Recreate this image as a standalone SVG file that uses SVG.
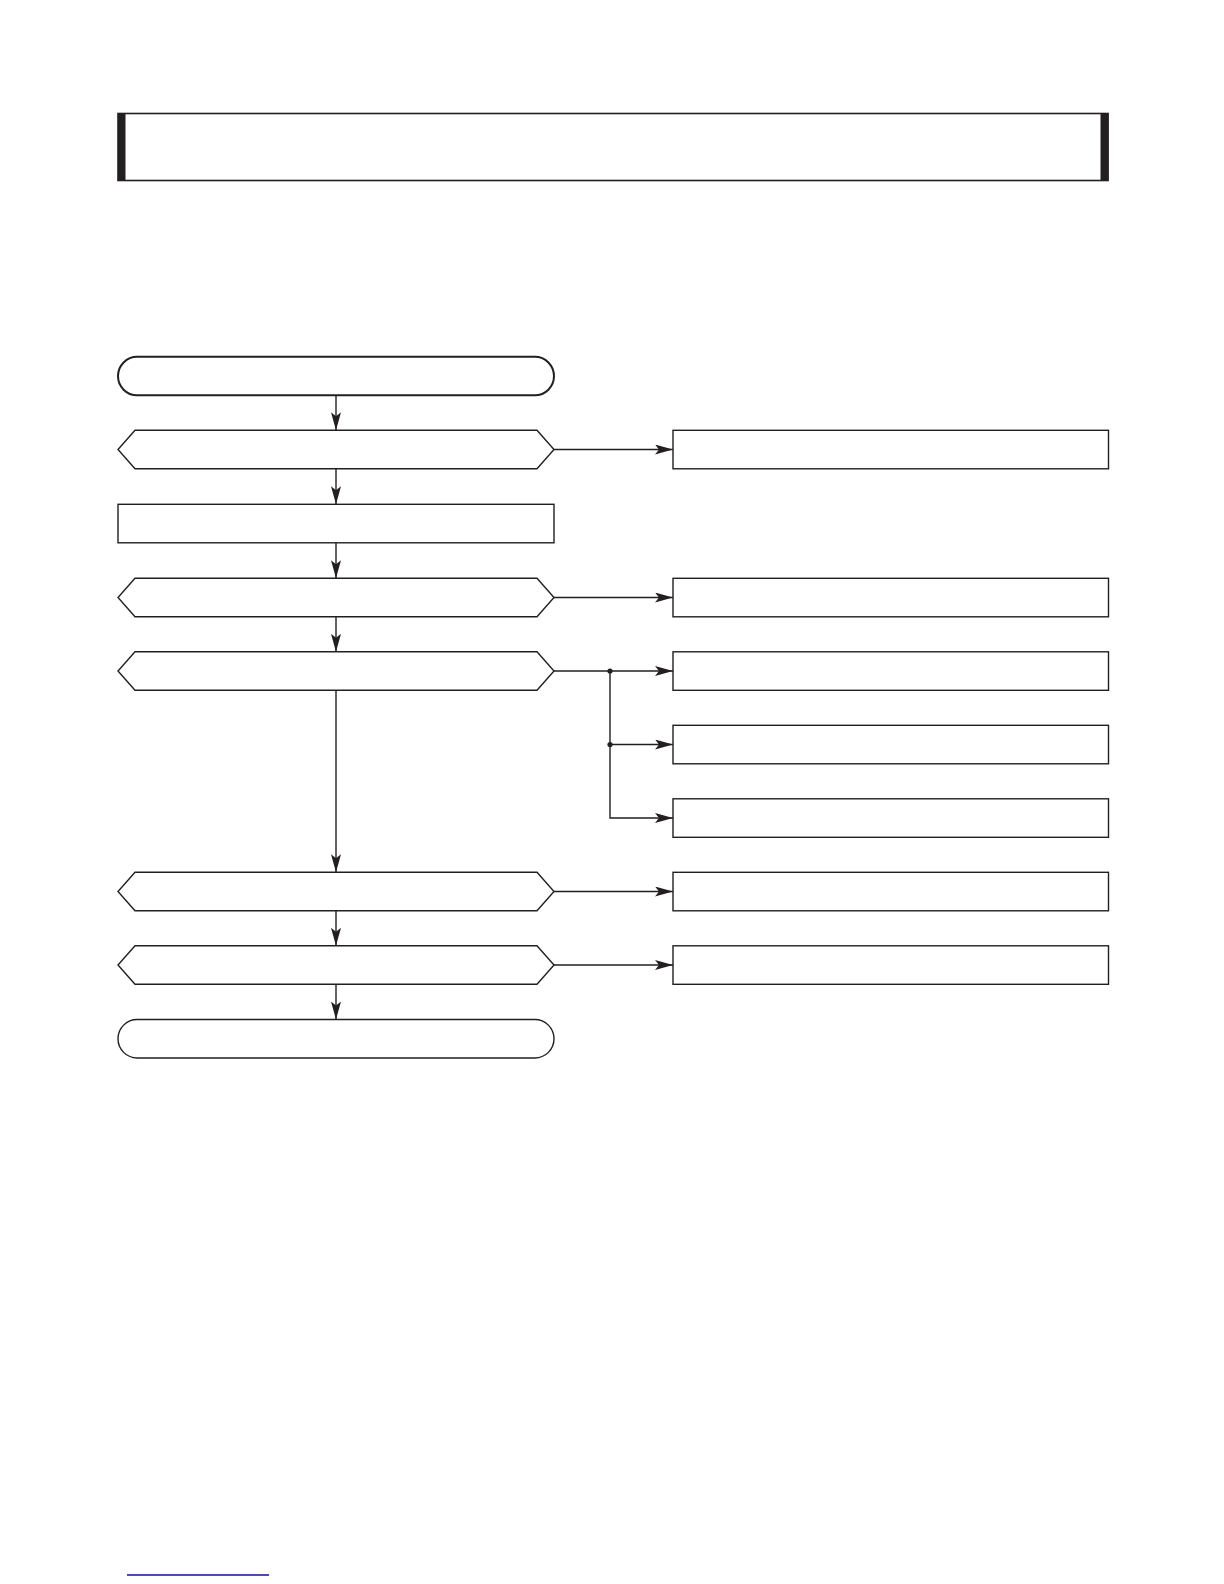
<svg xmlns="http://www.w3.org/2000/svg" width="1224" height="1584" viewBox="0 0 1224 1584">
<style>
.n{fill:#fff;stroke:#231f20;stroke-width:1.4}
.c{fill:none;stroke:#231f20;stroke-width:1.4}
.bar{fill:#231f20}
.dot{fill:#231f20}
</style>
<defs>
<marker id="ah" markerUnits="userSpaceOnUse" markerWidth="20" markerHeight="12" refX="18" refY="5" orient="auto">
<path d="M0,0 L18,5 L0,10 L4,5 z" fill="#231f20"/>
</marker>
</defs>
<rect width="1224" height="1584" fill="#fff"/>
<g id="header">
<rect x="118" y="113.5" width="990" height="67" fill="#fff" stroke="#231f20" stroke-width="1.6"/>
<rect class="bar" x="118" y="113" width="7.5" height="68"/>
<rect class="bar" x="1100.5" y="113" width="8" height="68"/>
</g>
<g id="start"><rect class="n" x="118" y="356.8" width="436" height="38.5" rx="19.2" ry="19.2" style="stroke-width:2"/></g>
<g id="d1"><polygon class="n" points="135,430.3 537,430.3 554,449.5 537,468.8 135,468.8 118,449.5"/></g>
<g id="p1"><rect class="n" x="118" y="504.3" width="436" height="38.5"/></g>
<g id="d2"><polygon class="n" points="135,578.3 537,578.3 554,597.5 537,616.8 135,616.8 118,597.5"/></g>
<g id="d3"><polygon class="n" points="135,651.8 537,651.8 554,671 537,690.3 135,690.3 118,671"/></g>
<g id="d4"><polygon class="n" points="135,872.3 537,872.3 554,891.5 537,910.8 135,910.8 118,891.5"/></g>
<g id="d5"><polygon class="n" points="135,945.8 537,945.8 554,965 537,984.3 135,984.3 118,965"/></g>
<g id="end"><rect class="n" x="118" y="1019.5" width="436" height="38.5" rx="19.2" ry="19.2"/></g>
<g id="r1"><rect class="n" x="673" y="430.3" width="435.5" height="38.5"/></g>
<g id="r2"><rect class="n" x="673" y="578.3" width="435.5" height="38.5"/></g>
<g id="r3"><rect class="n" x="673" y="651.8" width="435.5" height="38.5"/></g>
<g id="r4"><rect class="n" x="673" y="725.3" width="435.5" height="38.5"/></g>
<g id="r5"><rect class="n" x="673" y="798.8" width="435.5" height="38.5"/></g>
<g id="r6"><rect class="n" x="673" y="872.3" width="435.5" height="38.5"/></g>
<g id="r7"><rect class="n" x="673" y="945.8" width="435.5" height="38.5"/></g>
<g id="connectors">
<line class="c" x1="336" y1="395.3" x2="336" y2="430.3" marker-end="url(#ah)"/>
<line class="c" x1="336" y1="468.8" x2="336" y2="504.3" marker-end="url(#ah)"/>
<line class="c" x1="336" y1="542.8" x2="336" y2="578.3" marker-end="url(#ah)"/>
<line class="c" x1="336" y1="616.8" x2="336" y2="651.8" marker-end="url(#ah)"/>
<line class="c" x1="336" y1="690.3" x2="336" y2="872.3" marker-end="url(#ah)"/>
<line class="c" x1="336" y1="910.8" x2="336" y2="945.8" marker-end="url(#ah)"/>
<line class="c" x1="336" y1="984.3" x2="336" y2="1019.5" marker-end="url(#ah)"/>
<line class="c" x1="554" y1="449.5" x2="673" y2="449.5" marker-end="url(#ah)"/>
<line class="c" x1="554" y1="597.5" x2="673" y2="597.5" marker-end="url(#ah)"/>
<line class="c" x1="554" y1="671" x2="673" y2="671" marker-end="url(#ah)"/>
<line class="c" x1="610" y1="744.5" x2="673" y2="744.5" marker-end="url(#ah)"/>
<polyline class="c" points="610,671 610,818 673,818" marker-end="url(#ah)"/>
<line class="c" x1="554" y1="891.5" x2="673" y2="891.5" marker-end="url(#ah)"/>
<line class="c" x1="554" y1="965" x2="673" y2="965" marker-end="url(#ah)"/>
<circle class="dot" cx="610" cy="671" r="2.6"/>
<circle class="dot" cx="610" cy="744.5" r="2.6"/>
</g>
<line x1="127" y1="1575" x2="269" y2="1575" stroke="#10109a" stroke-width="1.5"/>
</svg>
